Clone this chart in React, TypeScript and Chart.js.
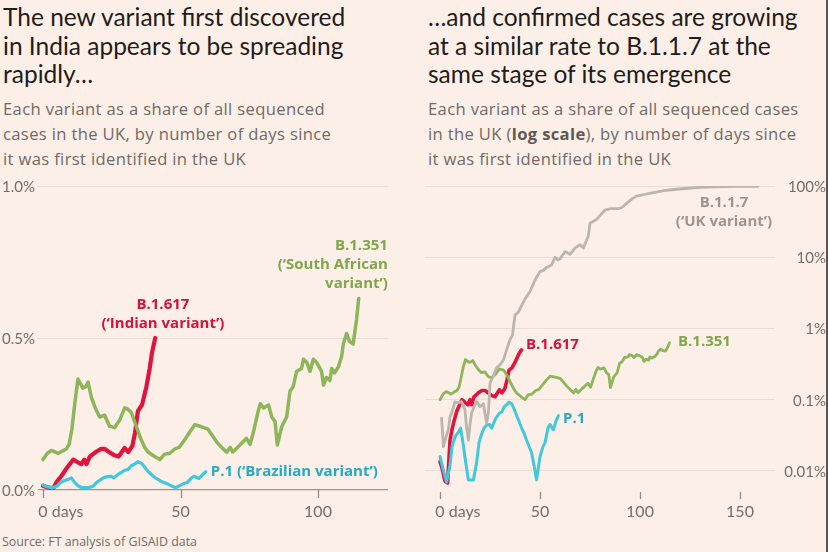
import React, { useEffect, useRef } from "react";
import { Chart, registerables } from "chart.js";

Chart.register(...registerables);

// ---------- DATA ----------
// B.1.617 ("Indian variant"): share of sequenced cases (%) by days since first identified
const B1617_DAYS = [0, 1, 2.5, 3.8, 5, 6, 7, 8.3, 10, 11, 12.5, 14, 15, 15.8, 17, 19.2, 21, 22.5, 24, 26, 27.5, 29.7, 31, 32.5, 33.5, 34.5, 36, 37.6, 38.8, 39.6, 40.8];
const B1617_SHARE = [0.0135, 0.011, 0.0072, 0.0068, 0.027, 0.038, 0.05, 0.068, 0.088, 0.1, 0.092, 0.085, 0.1, 0.085, 0.11, 0.125, 0.135, 0.135, 0.125, 0.114, 0.11, 0.138, 0.125, 0.145, 0.19, 0.26, 0.28, 0.34, 0.4, 0.45, 0.5];

// B.1.351 ("South African variant")
const B1351_DAYS = [0, 1.5, 3, 4.5, 5.5, 7, 8.5, 9.5, 10.5, 11.5, 12.7, 13.6, 14.5, 15.5, 16.4, 17.6, 19, 20.6, 22.4, 24.2, 26, 27.9, 29.7, 31, 32.1, 33.9, 35.7, 37, 38.2, 40.6, 42.5, 44.2, 46, 47.9, 49.5, 51.5, 53.3, 55.2, 57.6, 60, 61.5, 63.4, 65, 66.8, 68, 69, 71.6, 74, 75.3, 76.5, 78, 79, 80.2, 82, 83.2, 84.4, 85.2, 86.8, 88.6, 89.8, 91, 92.2, 94, 94.7, 95.9, 97.1, 98.3, 99.5, 101.3, 102, 103.1, 104.3, 105, 106, 107.4, 108.6, 109.2, 110.4, 111.4, 112.8, 114, 114.8];
const B1351_SHARE = [0.1, 0.12, 0.13, 0.125, 0.12, 0.128, 0.135, 0.15, 0.2, 0.28, 0.365, 0.35, 0.335, 0.34, 0.355, 0.305, 0.27, 0.24, 0.246, 0.21, 0.205, 0.23, 0.27, 0.265, 0.255, 0.21, 0.165, 0.14, 0.125, 0.11, 0.1, 0.118, 0.12, 0.135, 0.14, 0.165, 0.19, 0.215, 0.208, 0.2, 0.18, 0.155, 0.14, 0.124, 0.14, 0.125, 0.148, 0.17, 0.15, 0.19, 0.25, 0.284, 0.27, 0.28, 0.24, 0.225, 0.148, 0.208, 0.24, 0.325, 0.34, 0.39, 0.4, 0.43, 0.42, 0.39, 0.43, 0.42, 0.39, 0.345, 0.37, 0.36, 0.4, 0.385, 0.405, 0.44, 0.48, 0.515, 0.49, 0.48, 0.56, 0.63];

// P.1 ("Brazilian variant")
const P1_DAYS = [0, 1.7, 3.3, 5, 6, 7.5, 9.2, 10.3, 11.5, 12.7, 14.2, 16.7, 18.3, 19.5, 20.8, 22, 23.3, 24.8, 25.8, 27.9, 29.7, 31, 32.1, 33.3, 34.5, 35.8, 37, 38.3, 39.5, 40.8, 42, 43.3, 45.8, 47, 48.3, 50, 51.5, 52.5, 54, 55, 56.7, 58, 59.2];
const P1_SHARE = [0.016, 0.0101, 0.007, 0.012, 0.022, 0.03, 0.035, 0.04, 0.025, 0.014, 0.0075, 0.0075, 0.013, 0.025, 0.033, 0.04, 0.044, 0.045, 0.04, 0.055, 0.065, 0.068, 0.08, 0.085, 0.093, 0.088, 0.075, 0.06, 0.05, 0.04, 0.034, 0.027, 0.018, 0.012, 0.0075, 0.016, 0.022, 0.025, 0.04, 0.045, 0.038, 0.05, 0.06];

// B.1.1.7 ("UK variant")
const B117_DAYS = [0.8, 1.7, 3, 4.2, 5, 5.8, 7.5, 9, 10.8, 12.5, 13.3, 14.2, 15, 15.8, 17, 18.3, 20, 21.7, 23.3, 24.2, 25, 26.7, 28.3, 30, 31.7, 33.3, 35, 36.2, 37.5, 39.2, 40.8, 42.5, 45, 47.5, 50, 51.5, 53.3, 55.8, 57.5, 59, 60, 62.5, 65, 67.5, 70, 71.7, 74.2, 75, 78.3, 82.5, 85, 89.2, 91, 93.3, 96, 98.3, 102, 106.7, 112, 118.3, 124, 130, 137, 143.3, 150, 159];
const B117_SHARE = [0.055, 0.022, 0.03, 0.038, 0.057, 0.065, 0.094, 0.09, 0.094, 0.072, 0.04, 0.027, 0.045, 0.065, 0.08, 0.094, 0.08, 0.088, 0.047, 0.065, 0.17, 0.22, 0.28, 0.31, 0.36, 0.5, 0.7, 0.8, 1.55, 1.7, 2.1, 2.6, 3.3, 4.8, 6.3, 6.5, 7.2, 7.8, 10, 9.2, 9.5, 12, 11, 13.4, 15, 13.5, 20, 30, 34, 46, 48, 48, 50, 57, 66, 72, 76, 81, 86, 90, 93, 96, 97.5, 98, 98.8, 99];

// Axis ticks
const LEFT_X_TICKS = [0, 50, 100];
const LEFT_X_LABELS = ["0 days", "50", "100"];
const LEFT_Y_TICKS = [0, 0.5, 1.0];
const LEFT_Y_LABELS = ["0.0%", "0.5%", "1.0%"];
const RIGHT_X_TICKS = [0, 50, 100, 150];
const RIGHT_X_LABELS = ["0 days", "50", "100", "150"];
const RIGHT_Y_TICKS = [0.01, 0.1, 1, 10, 100];
const RIGHT_Y_LABELS = ["0.01%", "0.1%", "1%", "10%", "100%"];

// ---------- STYLE ----------
const FONT = 'Lato, "Open Sans", sans-serif';
const FONT2 = '"Open Sans", Lato, sans-serif';
const BG = "#fcefe7";
const RED = "#e0143c";
const GREEN = "#8db55a";
const CYAN = "#42c8de";
const GREY = "#bdb4ae";
const AXIS_TEXT = "#756d68";

const pts = (xs: number[], ys: number[]) => xs.map((x, i) => ({ x, y: ys[i] }));

const decorPlugin = {
  id: "decor",
  afterDraw(chart: any, _args: any, opts: any) {
    const ctx = chart.ctx;
    const xs = chart.scales.x;
    const ys = chart.scales.y;
    const area = chart.chartArea;
    ctx.save();
    // x tick marks
    ctx.strokeStyle = opts.tickColor;
    ctx.lineWidth = 1.3;
    opts.xTicks.forEach((v: number) => {
      const px = Math.round(xs.getPixelForValue(v)) + 0.5;
      ctx.beginPath();
      ctx.moveTo(px, area.bottom + opts.tickOffset);
      ctx.lineTo(px, area.bottom + opts.tickOffset + opts.tickLen);
      ctx.stroke();
    });
    // x labels
    ctx.font = `16px ${FONT}`;
    ctx.fillStyle = AXIS_TEXT;
    ctx.textBaseline = "middle";
    opts.xTicks.forEach((v: number, i: number) => {
      const px = xs.getPixelForValue(v);
      const py = area.bottom + opts.xLabelOffset;
      const txt = opts.xLabels[i];
      if (txt.indexOf(" ") > 0) {
        const first = txt.split(" ")[0];
        ctx.textAlign = "left";
        ctx.fillText(txt, px - ctx.measureText(first).width / 2, py);
      } else {
        ctx.textAlign = "center";
        ctx.fillText(txt, px, py);
      }
    });
    // y labels
    ctx.font = `15px ${FONT}`;
    ctx.textAlign = "right";
    opts.yTicks.forEach((v: number, i: number) => {
      const py = ys.getPixelForValue(v);
      const px = opts.yLabelSide === "left" ? area.left - 3 : chart.width - 2;
      ctx.fillText(opts.yLabels[i], px, py + 1);
    });
    // series labels
    opts.labels.forEach((l: any) => {
      ctx.font = `bold 15px ${FONT2}`;
      ctx.fillStyle = l.color;
      ctx.textAlign = l.align;
      const px = xs.getPixelForValue(l.x);
      const py = ys.getPixelForValue(l.y);
      l.lines.forEach((t: string, k: number) => {
        ctx.fillText(t, px, py + k * 19);
      });
    });
    ctx.restore();
  },
};

function useChart(ref: React.RefObject<HTMLCanvasElement>, build: () => any) {
  useEffect(() => {
    if (!ref.current) return;
    const chart = new Chart(ref.current, build());
    return () => chart.destroy();
  }, []);
}

const lineStyle = { pointRadius: 0, tension: 0, borderJoinStyle: "round", borderCapStyle: "round", fill: false };

function LeftChart() {
  const ref = useRef<HTMLCanvasElement>(null);
  useChart(ref, () => ({
    type: "line",
    data: {
      datasets: [
        { data: pts(B1351_DAYS, B1351_SHARE), borderColor: GREEN, borderWidth: 3.5 },
        { data: pts(P1_DAYS, P1_SHARE), borderColor: CYAN, borderWidth: 3.2 },
        { data: pts(B1617_DAYS, B1617_SHARE), borderColor: RED, borderWidth: 4.2 },
      ].map((d) => ({ ...d, ...lineStyle })),
    },
    options: {
      animation: false,
      responsive: false,
      events: [],
      layout: { padding: { left: 38, top: 10, right: 26, bottom: 36 } },
      plugins: {
        legend: { display: false },
        tooltip: { enabled: false },
        decor: {
          xTicks: LEFT_X_TICKS,
          xLabels: LEFT_X_LABELS,
          yTicks: LEFT_Y_TICKS,
          yLabels: LEFT_Y_LABELS,
          yLabelSide: "left",
          tickColor: "#948b85",
          tickOffset: 0,
          tickLen: 8,
          xLabelOffset: 22,
          labels: [
            { lines: ["B.1.617", "(‘Indian variant’)"], x: 43.6, y: 0.609, align: "center", color: "#d5123d" },
            { lines: ["B.1.351", "(‘South African", "variant’)"], x: 125.4, y: 0.803, align: "right", color: "#7fa64c" },
            { lines: ["P.1 (‘Brazilian variant’)"], x: 61, y: 0.059, align: "left", color: "#22abc6" },
          ],
        },
      },
      scales: {
        x: { type: "linear", display: false, min: -1.82, max: 125.45 },
        y: {
          type: "linear",
          min: 0,
          max: 1,
          afterBuildTicks: (s: any) => {
            s.ticks = LEFT_Y_TICKS.map((v) => ({ value: v }));
          },
          ticks: { display: false },
          border: { display: false },
          grid: {
            drawTicks: false,
            color: (c: any) => (c.tick && c.tick.value === 0 ? "#9c938d" : "#e9ddd4"),
            lineWidth: (c: any) => (c.tick && c.tick.value === 0 ? 1.3 : 1),
          },
        },
      },
    },
    plugins: [decorPlugin],
  }));
  return (
    <canvas
      ref={ref}
      width={414}
      height={350}
      style={{ position: "absolute", left: 0, top: 176, width: 414, height: 350 }}
    />
  );
}

function RightChart() {
  const ref = useRef<HTMLCanvasElement>(null);
  useChart(ref, () => ({
    type: "line",
    data: {
      datasets: [
        { data: pts(B117_DAYS, B117_SHARE), borderColor: GREY, borderWidth: 2.8 },
        { data: pts(B1351_DAYS, B1351_SHARE), borderColor: GREEN, borderWidth: 2.8 },
        { data: pts(P1_DAYS, P1_SHARE), borderColor: CYAN, borderWidth: 3 },
        { data: pts(B1617_DAYS, B1617_SHARE), borderColor: RED, borderWidth: 3.6 },
      ].map((d) => ({ ...d, ...lineStyle })),
    },
    options: {
      animation: false,
      responsive: false,
      events: [],
      layout: { padding: { left: 11, top: 10, right: 53, bottom: 38 } },
      plugins: {
        legend: { display: false },
        tooltip: { enabled: false },
        decor: {
          xTicks: RIGHT_X_TICKS,
          xLabels: RIGHT_X_LABELS,
          yTicks: RIGHT_Y_TICKS,
          yLabels: RIGHT_Y_LABELS,
          yLabelSide: "right",
          tickColor: "#948b85",
          tickOffset: 4,
          tickLen: 7,
          xLabelOffset: 24,
          labels: [
            { lines: ["B.1.1.7", "(‘UK variant’)"], x: 142, y: 57.7, align: "center", color: "#9d948e" },
            { lines: ["B.1.617"], x: 43, y: 0.587, align: "left", color: "#d5123d" },
            { lines: ["B.1.351"], x: 119, y: 0.647, align: "left", color: "#7fa64c" },
            { lines: ["P.1"], x: 61.5, y: 0.0537, align: "left", color: "#22abc6" },
          ],
        },
      },
      scales: {
        x: { type: "linear", display: false, min: -7.5, max: 167.5 },
        y: {
          type: "logarithmic",
          min: 0.00577,
          max: 100,
          afterBuildTicks: (s: any) => {
            s.ticks = RIGHT_Y_TICKS.map((v) => ({ value: v }));
          },
          ticks: { display: false },
          border: { display: false },
          grid: { drawTicks: false, color: "#e9ddd4", lineWidth: 1 },
        },
      },
    },
    plugins: [decorPlugin],
  }));
  return (
    <canvas
      ref={ref}
      width={414}
      height={350}
      style={{ position: "absolute", left: 414, top: 176, width: 414, height: 350 }}
    />
  );
}

const titleStyle: React.CSSProperties = {
  position: "absolute",
  top: 3,
  fontFamily: FONT,
  fontSize: 24.5,
  lineHeight: "28.5px",
  color: "#1f1c1a",
  whiteSpace: "nowrap",
};
const subStyle: React.CSSProperties = {
  position: "absolute",
  top: 95.5,
  fontFamily: FONT2,
  fontSize: 16.6,
  letterSpacing: "0.35px",
  lineHeight: "25px",
  color: "#716964",
  whiteSpace: "nowrap",
};

export default function App() {
  return (
    <div
      style={{
        position: "absolute",
        left: 0,
        top: 0,
        width: 828,
        height: 552,
        background: BG,
        overflow: "hidden",
      }}
    >
      <div style={{ ...titleStyle, left: 3 }}>
        The new variant first discovered
        <br />
        in India appears to be spreading
        <br />
        rapidly…
      </div>
      <div style={{ ...subStyle, left: 3 }}>
        Each variant as a share of all sequenced
        <br />
        cases in the UK, by number of days since
        <br />
        it was first identified in the UK
      </div>
      <div style={{ ...titleStyle, left: 428 }}>
        …and confirmed cases are growing
        <br />
        at a similar rate to B.1.1.7 at the
        <br />
        same stage of its emergence
      </div>
      <div style={{ ...subStyle, left: 428 }}>
        Each variant as a share of all sequenced cases
        <br />
        in the UK (<b style={{ color: "#5f5853" }}>log scale</b>), by number of days since
        <br />
        it was first identified in the UK
      </div>
      <LeftChart />
      <RightChart />
      <div
        style={{
          position: "absolute",
          left: 2,
          top: 533,
          fontFamily: FONT2,
          fontSize: 12.4,
          color: "#716964",
          whiteSpace: "nowrap",
        }}
      >
        Source: FT analysis of GISAID data
      </div>
      <div style={{ position: "absolute", left: 826, top: 0, width: 2, height: 552, background: "#5a5350" }} />
    </div>
  );
}
